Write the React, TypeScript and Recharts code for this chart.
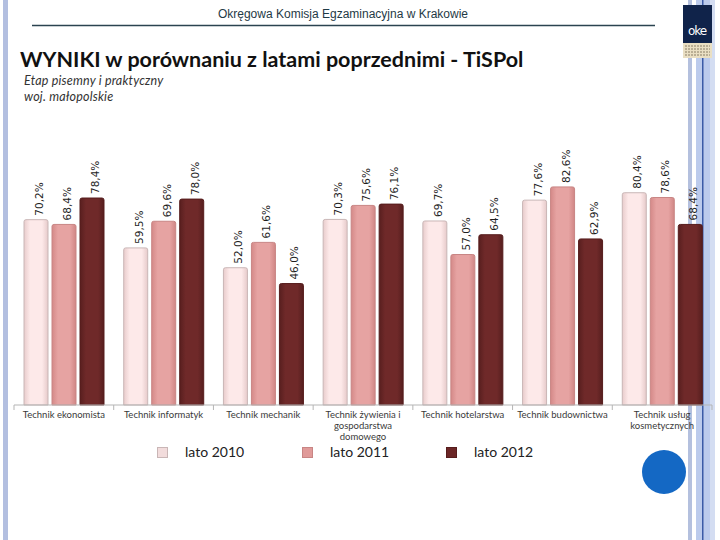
import React from "react";
import { BarChart, Bar, XAxis, YAxis, LabelList } from "recharts";

const categories = [
  "Technik ekonomista",
  "Technik informatyk",
  "Technik mechanik",
  "Technik żywienia i gospodarstwa domowego",
  "Technik hotelarstwa",
  "Technik budownictwa",
  "Technik usług kosmetycznych",
];

const lato2010 = [70.2, 59.5, 52.0, 70.3, 69.7, 77.6, 80.4];
const lato2011 = [68.4, 69.6, 61.6, 75.6, 57.0, 82.6, 78.6];
const lato2012 = [78.4, 78.0, 46.0, 76.1, 64.5, 62.9, 68.4];

const seriesNames = ["lato 2010", "lato 2011", "lato 2012"];

const data = categories.map((name, i) => ({
  name,
  y2010: lato2010[i],
  y2011: lato2011[i],
  y2012: lato2012[i],
}));

const SERIES = [
  { key: "y2010", name: seriesNames[0], grad: "g2010", stroke: "#c9b6b6", swatch: "#f2dcdc", left: 157 },
  { key: "y2011", name: seriesNames[1], grad: "g2011", stroke: "#c88584", swatch: "#e09a99", left: 302 },
  { key: "y2012", name: seriesNames[2], grad: "g2012", stroke: "#561c1c", swatch: "#6b2626", left: 446 },
];

const BAND = 698 / categories.length;
const TICK_FONT = "9.5px Lato";

const fmt = (v: number) => v.toFixed(1).replace(".", ",") + "%";

// greedy word wrap, measured with canvas
let ctx: CanvasRenderingContext2D | null = null;
const wrap = (text: string, maxW: number) => {
  if (!ctx) ctx = document.createElement("canvas").getContext("2d");
  const measure = (s: string) => {
    if (!ctx) return s.length * 4.6;
    ctx.font = TICK_FONT;
    return ctx.measureText(s).width;
  };
  const lines: string[] = [];
  let cur = "";
  text.split(" ").forEach((w) => {
    const next = cur ? cur + " " + w : w;
    if (cur && measure(next) > maxW) {
      lines.push(cur);
      cur = w;
    } else {
      cur = next;
    }
  });
  if (cur) lines.push(cur);
  return lines;
};

const BarLabel = (props: any) => {
  const { x, y, width, value } = props;
  const cx = x + width / 2 + 3;
  const cy = y - 4;
  return (
    <text
      x={cx}
      y={cy}
      transform={`rotate(-90 ${cx} ${cy})`}
      fontSize={10.5}
      fontFamily="DejaVu Sans"
      fill="#1e1e1e"
      textAnchor="start"
      dominantBaseline="central"
    >
      {fmt(value)}
    </text>
  );
};

const CategoryTick = (props: any) => {
  const { x, y, payload, index } = props;
  const last = index === categories.length - 1;
  const lines = wrap(String(payload.value), 92);
  return (
    <g>
      <line x1={x - BAND / 2} x2={x - BAND / 2} y1={y} y2={y + 5} stroke="#b5b5b5" />
      {last && <line x1={x + BAND / 2} x2={x + BAND / 2} y1={y} y2={y + 5} stroke="#b5b5b5" />}
      <text x={x} y={y + 13} textAnchor="middle" fontSize={9.5} fontFamily="Lato" fill="#3a3a3a">
        {lines.map((l, i) => (
          <tspan key={i} x={x} dy={i === 0 ? 0 : 11}>
            {l}
          </tspan>
        ))}
      </text>
    </g>
  );
};

const Decor = () => (
  <svg width={720} height={540} style={{ position: "absolute", left: 0, top: 0 }}>
    <rect x={0} y={0} width={720} height={540} fill="#ffffff" />
    <rect x={3} y={0} width={5} height={540} fill="#b3bfe0" />
    <rect x={688} y={0} width={4} height={540} fill="#b4c0de" />
    <rect x={696} y={0} width={14} height={540} fill="#bccbec" />
    <rect x={702} y={0} width={1.5} height={540} fill="#3b5ba6" />
    <rect x={710} y={0} width={5} height={540} fill="#d4ddf2" />
    <text x={343} y={18} textAnchor="middle" fontSize={12} fontFamily="Liberation Sans" fill="#1f3a46">
      Okręgowa Komisja Egzaminacyjna w Krakowie
    </text>
    <line x1={32} x2={655} y1={25.5} y2={25.5} stroke="#2b4350" strokeWidth={1.5} />
    <rect x={683} y={5} width={29} height={38} fill="#10234a" />
    <text x={697} y={35} textAnchor="middle" fontSize={12} fontFamily="DejaVu Sans" fill="#ffffff" letterSpacing={-1}>
      oke
    </text>
    <rect x={683} y={43} width={29} height={15} fill="#eadfc3" />
    {[46, 49, 52, 55].map((yy) => (
      <line key={yy} x1={685} x2={710} y1={yy} y2={yy} stroke="#8a7f66" strokeWidth={1} strokeDasharray="2 1" />
    ))}
    <text x={20} y={67} fontSize={21.5} fontWeight={700} fontFamily="Lato" fill="#111">
      WYNIKI w porównaniu z latami poprzednimi - TiSPol
    </text>
    <text x={24} y={85} fontSize={12.5} fontStyle="italic" fontFamily="Lato" fill="#333" letterSpacing={0.2}>
      Etap pisemny i praktyczny
    </text>
    <text x={24} y={101} fontSize={12.5} fontStyle="italic" fontFamily="Lato" fill="#333" letterSpacing={0.2}>
      woj. małopolskie
    </text>
    <circle cx={664} cy={472} r={22} fill="#1468c4" />
  </svg>
);

export default function App() {
  return (
    <div style={{ position: "absolute", left: 0, top: 0, width: 720, height: 540, overflow: "hidden" }}>
      <Decor />
      <div style={{ position: "absolute", left: 0, top: 0 }}>
        <BarChart
          width={720}
          height={540}
          data={data}
          margin={{ top: 141, right: 8, left: 14, bottom: 85 }}
          barSize={24}
          barGap={4}
        >
          <defs>
            <linearGradient id="g2010" x1="0" y1="0" x2="1" y2="0">
              <stop offset="0%" stopColor="#e8cccc" />
              <stop offset="25%" stopColor="#fde9e9" />
              <stop offset="75%" stopColor="#fde9e9" />
              <stop offset="100%" stopColor="#e6caca" />
            </linearGradient>
            <linearGradient id="g2011" x1="0" y1="0" x2="1" y2="0">
              <stop offset="0%" stopColor="#d48988" />
              <stop offset="25%" stopColor="#e6a3a2" />
              <stop offset="75%" stopColor="#e6a3a2" />
              <stop offset="100%" stopColor="#d08685" />
            </linearGradient>
            <linearGradient id="g2012" x1="0" y1="0" x2="1" y2="0">
              <stop offset="0%" stopColor="#581f1f" />
              <stop offset="25%" stopColor="#6f2929" />
              <stop offset="75%" stopColor="#6f2929" />
              <stop offset="100%" stopColor="#561e1e" />
            </linearGradient>
          </defs>
          <XAxis
            dataKey="name"
            height={50}
            interval={0}
            tickSize={0}
            tickMargin={0}
            axisLine={{ stroke: "#b5b5b5" }}
            tickLine={false}
            tick={<CategoryTick />}
          />
          <YAxis hide domain={[0, 100]} />
          {SERIES.map((s) => (
            <Bar
              key={s.key}
              dataKey={s.key}
              name={s.name}
              fill={`url(#${s.grad})`}
              stroke={s.stroke}
              strokeWidth={1}
              radius={[2, 2, 0, 0]}
              isAnimationActive={false}
            >
              <LabelList dataKey={s.key} content={<BarLabel />} />
            </Bar>
          ))}
        </BarChart>
      </div>
      {SERIES.map((s) => (
        <div
          key={s.key}
          style={{ position: "absolute", left: s.left, top: 445, display: "flex", alignItems: "center" }}
        >
          <div
            style={{
              width: 9,
              height: 9,
              background: s.swatch,
              border: `1px solid ${s.stroke}`,
              marginRight: 17,
            }}
          />
          <span style={{ fontFamily: "Lato", fontSize: 14, color: "#222", lineHeight: "14px" }}>{s.name}</span>
        </div>
      ))}
    </div>
  );
}
